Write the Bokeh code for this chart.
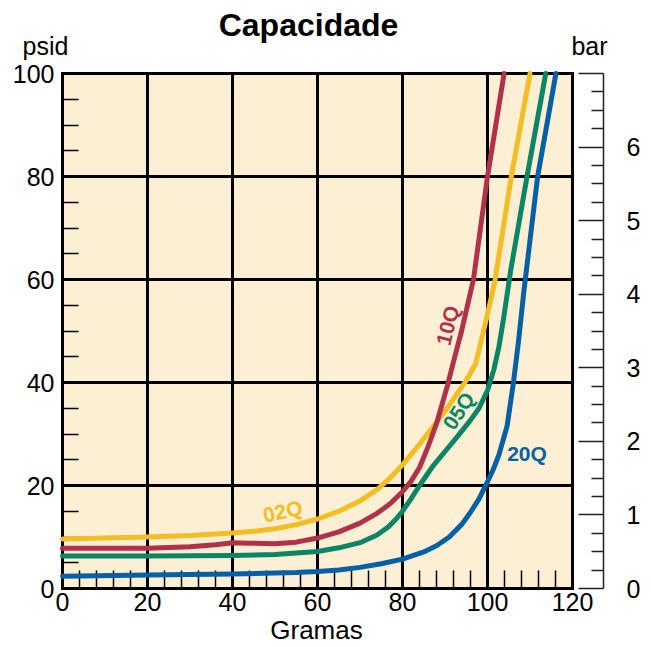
from bokeh.plotting import figure
from bokeh.models import Range1d, LinearAxis, FixedTicker, BoxAnnotation
from bokeh.embed import file_html
from bokeh.resources import INLINE
from bokeh.core.properties import value

# ---- chart data ----
title_text = "Capacidade"
x_axis_label = "Gramas"
left_unit = "psid"
right_unit = "bar"

x_ticks = [0, 20, 40, 60, 80, 100, 120]
y_ticks = [0, 20, 40, 60, 80, 100]
bar_ticks = [0, 1, 2, 3, 4, 5, 6, 7]

q02_x = [0, 10, 20, 30, 40, 45, 50, 55, 60, 65, 70, 74, 77, 80, 83, 87, 91, 95, 97.2, 99.5, 101.7, 105.6, 110]
q02_y = [9.6, 9.8, 10.0, 10.3, 10.8, 11.1, 11.6, 12.4, 13.5, 15.0, 17.0, 19.2, 21.4, 24.0, 27.0, 31.2, 35.6, 40.4, 43.6, 51.5, 59.5, 80, 100]

q10_x = [0, 20, 30, 36, 40, 44, 50, 55, 60, 65, 70, 74, 77, 80, 82, 84, 86, 88, 90.6, 92.3, 93.9, 96.7, 100, 103.9]
q10_y = [7.8, 7.8, 8.1, 8.5, 8.9, 8.8, 8.7, 9.0, 9.8, 11.0, 12.7, 14.6, 16.4, 18.8, 20.8, 23.5, 27.5, 32.0, 39.5, 45.0, 50.0, 60, 80, 100]

q05_x = [0, 20, 40, 50, 60, 65, 70, 74, 76.7, 78.5, 80, 82, 84, 87, 90, 93, 96, 98, 100, 101.5, 102.7, 103.7, 105.5, 109.3, 113.7]
q05_y = [6.3, 6.3, 6.4, 6.6, 7.2, 7.9, 8.9, 10.4, 12.0, 13.5, 15.0, 17.4, 20.0, 23.6, 26.6, 29.6, 32.7, 35.0, 38.5, 42.5, 47.0, 52.0, 62, 80, 100]

q20_x = [0, 20, 40, 55, 60, 65, 70, 75, 80, 85, 88, 91, 94, 96, 98, 99.7, 101.3, 102.7, 104.6, 106.1, 107.3, 108.6, 111.8, 116.1]
q20_y = [2.4, 2.6, 2.8, 3.1, 3.3, 3.6, 4.1, 4.8, 5.7, 7.1, 8.3, 10.0, 12.5, 14.8, 17.4, 20.2, 23.0, 26.0, 31.5, 40, 48, 58, 80, 100]

series_names = ["02Q", "10Q", "05Q", "20Q"]
label_x = [51.8, 90.6, 93.2, 109.3]
label_y = [15.0, 51.1, 34.5, 26.2]
label_angle = [12, 76, 57, 0]

# ---- styles / layout ----
FONT = "Liberation Sans"
CREAM = "#fdefd3"
YELLOW = "#f4bd22"
RED = "#b2314a"
GREEN = "#0a8566"
BLUE = "#0560a6"
colors = [YELLOW, RED, GREEN, BLUE]
TICK_FS = "25px"

W, H = 651, 647
PX_X = 4.25   # pixels per gram
PX_Y = 5.15   # pixels per psid
LEFT, BOTTOM = 62, 588          # pixel position of (0, 0)
BAR_AXIS_X = 127.3              # where the bar scale stands (in grams)
BAR_PER_PSID = bar_ticks[-1] / y_ticks[-1]

x0 = -LEFT / PX_X
x1 = (W - LEFT) / PX_X
y0 = -(H - BOTTOM) / PX_Y
y1 = BOTTOM / PX_Y

p = figure(width=W, height=H,
           x_range=Range1d(x0, x1), y_range=Range1d(y0, y1),
           x_axis_type=None, y_axis_type=None,
           output_backend="svg", toolbar_location=None, min_border=0)
p.outline_line_color = None
p.background_fill_color = "white"
p.border_fill_color = "white"
p.grid.visible = False
p.extra_y_ranges = {"bar": Range1d(y0 * BAR_PER_PSID, y1 * BAR_PER_PSID)}

# cream plot area
p.add_layout(BoxAnnotation(left=x_ticks[0], right=x_ticks[-1], bottom=y_ticks[0], top=y_ticks[-1],
                           fill_color=CREAM, fill_alpha=1, line_color=None, level="image"))

x_minor = [v for v in range(4, 120, 4) if v % 20]
y_minor = [v for v in range(5, 100, 5) if v % 20]
bar_minor = [i / 4 for i in range(1, 28) if i % 4]

# axes (drawn under the curves)
xa = LinearAxis(ticker=FixedTicker(ticks=x_ticks, minor_ticks=x_minor),
                fixed_location=y_ticks[0], bounds=(x_ticks[0], x_ticks[-1]),
                axis_line_color=None, level="underlay",
                major_tick_in=0, major_tick_out=0,
                minor_tick_in=18, minor_tick_out=0,
                minor_tick_line_color="black", minor_tick_line_width=1.5,
                major_label_text_font=FONT, major_label_text_font_size=TICK_FS,
                major_label_text_color="black", major_label_standoff=4)
p.add_layout(xa, "below")

ya = LinearAxis(ticker=FixedTicker(ticks=y_ticks, minor_ticks=y_minor),
                fixed_location=x_ticks[0], bounds=(y_ticks[0], y_ticks[-1]),
                axis_line_color=None, level="underlay",
                major_tick_in=0, major_tick_out=0,
                minor_tick_in=16, minor_tick_out=0,
                minor_tick_line_color="black", minor_tick_line_width=1.5,
                major_label_text_font=FONT, major_label_text_font_size=TICK_FS,
                major_label_text_color="black", major_label_standoff=8)
p.add_layout(ya, "left")

ra = LinearAxis(y_range_name="bar",
                ticker=FixedTicker(ticks=bar_ticks, minor_ticks=bar_minor),
                fixed_location=BAR_AXIS_X, bounds=(bar_ticks[0], bar_ticks[-1]),
                axis_line_width=1.5, axis_line_color="#222222",
                major_tick_in=25, major_tick_out=0,
                minor_tick_in=12, minor_tick_out=0,
                major_tick_line_color="#222222", major_tick_line_width=1.5,
                minor_tick_line_color="#222222", minor_tick_line_width=1.5,
                major_label_text_font=FONT, major_label_text_font_size=TICK_FS,
                major_label_text_color="black", major_label_standoff=23,
                major_label_overrides={bar_ticks[-1]: ""})
p.add_layout(ra, "right")

# grid lines and frame of the plot area
p.segment(x0=x_ticks, x1=x_ticks, y0=[y_ticks[0]] * len(x_ticks), y1=[y_ticks[-1]] * len(x_ticks),
          line_color="black", line_width=3, line_cap="square")
p.segment(x0=[x_ticks[0]] * len(y_ticks), x1=[x_ticks[-1]] * len(y_ticks), y0=y_ticks, y1=y_ticks,
          line_color="black", line_width=3, line_cap="square")

# curves
for xs, ys, c in [(q02_x, q02_y, YELLOW), (q10_x, q10_y, RED),
                  (q05_x, q05_y, GREEN), (q20_x, q20_y, BLUE)]:
    p.line(xs, ys, line_color=c, line_width=5, line_join="round", line_cap="round")

for nm, lx, ly, la, c in zip(series_names, label_x, label_y, label_angle, colors):
    p.text(x=[lx], y=[ly], text=[nm], angle=[la], angle_units="deg",
           text_color=c, text_font=value(FONT), text_font_style="bold",
           text_font_size="21px", text_align="center", text_baseline="middle")

# title, unit labels and axis title
p.text(x=[(308 - LEFT) / PX_X], y=[(BOTTOM - 24) / PX_Y], text=[title_text],
       text_font=value(FONT), text_font_size="32px", text_font_style="bold",
       text_color="black", text_align="center", text_baseline="middle")
p.text(x=[(45 - LEFT) / PX_X, (589 - LEFT) / PX_X], y=[(BOTTOM - 45) / PX_Y] * 2,
       text=[left_unit, right_unit], text_font=value(FONT), text_font_size=TICK_FS,
       text_color="black", text_align="center", text_baseline="middle")
p.text(x=[(316 - LEFT) / PX_X], y=[(BOTTOM - 629) / PX_Y], text=[x_axis_label],
       text_font=value(FONT), text_font_size="26px", text_color="black",
       text_align="center", text_baseline="middle")

open("out.html", "w").write(file_html(p, INLINE))
